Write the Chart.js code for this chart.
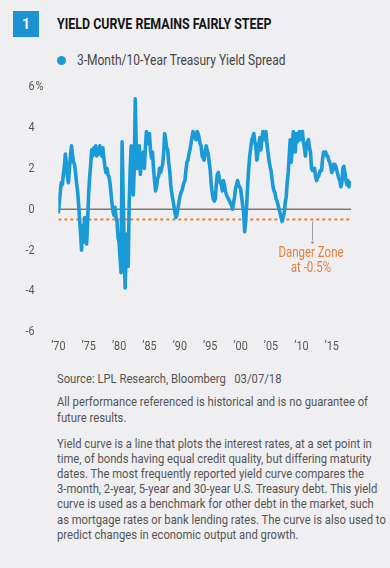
<!DOCTYPE html>
<html><head><meta charset="utf-8">
<script src="https://cdn.jsdelivr.net/npm/chart.js@4/dist/chart.umd.min.js"></script>
<style>
html,body{margin:0;padding:0;background:#efeff1;}
body{width:390px;height:568px;position:relative;overflow:hidden;font-family:Roboto,"Liberation Sans",sans-serif;}
.num{position:absolute;left:13px;top:11px;width:26px;height:26px;background:#1b93d3;color:#fff;font-weight:bold;font-size:14px;line-height:26px;text-align:center;}
.blk{position:absolute;white-space:nowrap;transform-origin:0 0;}
.blk > span{display:inline-block;}
.title{left:57px;top:15px;font-weight:bold;font-size:15px;line-height:18px;color:#151515;}
.dot{position:absolute;left:57px;top:55.5px;width:9px;height:9px;border-radius:50%;background:#1b9ad8;}
.legend{left:77px;top:51px;font-size:14px;line-height:18px;color:#444;}
#wrap{position:absolute;left:0;top:70px;width:390px;height:290px;}
.txt{left:57px;font-size:13px;color:#555;}
</style>
</head>
<body>
<div class="num">1</div>
<div class="blk title" data-w="214.5"><span>YIELD CURVE REMAINS FAIRLY STEEP</span></div>
<div class="dot"></div>
<div class="blk legend" data-w="208.5"><span>3-Month/10-Year Treasury Yield Spread</span></div>
<div id="wrap"><canvas id="c" width="390" height="290"></canvas></div>
<div class="blk txt body" style="top:371px;line-height:16px;"><span>Source: LPL Research, Bloomberg&nbsp;&nbsp;&nbsp;03/07/18</span></div>
<div class="blk txt body" style="top:393.5px;line-height:16.3px;"><span id="ref">All performance referenced is historical and is no guarantee of</span><br><span>future results.</span></div>
<div class="blk txt body" style="top:435.6px;line-height:15.2px;"><span>Yield curve is a line that plots the interest rates, at a set point in<br>time, of bonds having equal credit quality, but differing maturity<br>dates. The most frequently reported yield curve compares the<br>3-month, 2-year, 5-year and 30-year U.S. Treasury debt. This yield<br>curve is used as a benchmark for other debt in the market, such<br>as mortgage rates or bank lending rates. The curve is also used to<br>predict changes in economic output and growth.</span></div>
<script>
// condense HTML text to the reference widths
(function () {
  document.querySelectorAll('.blk[data-w]').forEach(el => {
    const w = el.querySelector('span').getBoundingClientRect().width;
    el.style.transform = 'scaleX(' + (parseFloat(el.dataset.w) / w) + ')';
  });
  const rw = document.getElementById('ref').getBoundingClientRect().width;
  const k = 311 / rw;
  document.querySelectorAll('.blk.body').forEach(el => { el.style.transform = 'scaleX(' + k + ')'; });
})();
</script>
<script>
// 3-Month/10-Year Treasury yield spread (%), sampled every two months from Jan 1970
const startYear = 1970;
const samplesPerYear = 6;
const spread1970s = [
  -0.2, 0.3, 0.9, 1.3, 1.2, 1.7,
  2.1, 2.7, 2.2, 1.6, 1.3, 2.0,
  2.6, 3.1, 2.7, 2.3, 2.2, 1.8,
  1.3, 0.9, 0.3, -0.5, -1.2, -2.0,
  -0.8, -1.6, -0.4, -1.3, -1.7, -0.5,
  0.8, 1.6, 2.2, 2.9, 2.6, 3.0,
  2.7, 3.1, 2.6, 2.9, 2.7, 3.1,
  2.9, 2.6, 3.0, 2.5, 2.1, 1.8,
  2.0, 1.7, 1.6, 1.3, 0.8, 0.3,
  -0.1, -0.3, 0.1, -0.4, -0.6, -1.4
];
const spread1980s = [
  -1.6, -2.4, -3.1, 3.3, 0.8, -1.8,
  -3.85, -2.0, -1.2, -2.8, 0.3, 2.0,
  3.1, 1.6, 0.7, 2.0, 5.4, 2.9,
  2.0, 2.6, 3.1, 1.7, 2.3, 2.6,
  2.8, 2.0, 3.0, 3.8, 3.2, 3.6,
  3.7, 2.9, 2.5, 2.8, 2.0, 1.4,
  0.9, 1.1, 1.5, 1.6, 2.0, 1.8,
  2.0, 2.2, 2.7, 3.7, 3.4, 3.0,
  2.9, 2.3, 1.9, 1.2, 0.8, 0.5,
  0.2, -0.1, -0.4, -0.3, 0.0, 0.3
];
const spread1990s = [
  0.6, 0.8, 0.9, 1.1, 1.3, 1.4,
  1.9, 2.3, 2.4, 2.7, 2.9, 3.2,
  3.5, 3.8, 3.5, 3.7, 3.4, 3.8,
  3.7, 3.5, 3.2, 3.1, 2.6, 2.5,
  2.4, 2.8, 3.1, 2.9, 2.7, 2.3,
  1.9, 1.2, 0.8, 0.5, 0.4, 0.5,
  1.2, 1.7, 1.8, 1.5, 1.3, 1.2,
  0.9, 1.4, 1.2, 0.9, 0.7, 0.6,
  0.5, 0.4, 0.3, 0.2, 0.0, 0.3,
  0.6, 1.0, 1.2, 1.4, 1.2, 1.1
];
const spread2000s = [
  1.0, 0.6, 0.2, -0.2, -1.1, -0.6,
  0.2, 1.2, 2.0, 2.6, 3.0, 3.4,
  3.5, 3.7, 3.3, 3.1, 2.4, 2.7,
  3.2, 3.5, 2.9, 3.4, 3.8, 3.4,
  3.5, 3.8, 3.2, 2.8, 2.4, 2.1,
  1.9, 1.5, 1.1, 0.9, 0.8, 0.5,
  0.4, 0.2, 0.0, -0.2, -0.4, -0.6,
  -0.4, -0.2, 0.3, 0.6, 1.3, 1.8,
  2.6, 3.4, 2.3, 3.0, 3.8, 2.8,
  2.8, 3.7, 3.3, 3.5, 3.8, 3.4
];
const spread2010s = [
  3.6, 3.8, 3.3, 3.0, 2.6, 3.2,
  3.3, 3.4, 3.0, 2.8, 2.0, 1.9,
  1.9, 2.0, 1.6, 1.4, 1.6, 1.6,
  1.8, 1.9, 1.9, 2.5, 2.8, 2.8,
  2.8, 2.6, 2.6, 2.4, 2.3, 2.1,
  1.8, 1.9, 2.2, 2.2, 2.1, 1.9,
  1.7, 1.5, 1.4, 1.1, 1.3, 2.0,
  2.1, 1.8, 1.4, 1.2, 1.4, 1.1,
  1.3, 1.2
];
const spread = [...spread1970s, ...spread1980s, ...spread1990s, ...spread2000s, ...spread2010s];
const xTickYears = [1970, 1975, 1980, 1985, 1990, 1995, 2000, 2005, 2010, 2015];
const yTickValues = [6, 4, 2, 0, -2, -4, -6];
const dangerLevel = -0.5;
const dangerLabel = ['Danger Zone', 'at -0.5%'];
const dangerLabelYear = 2011.8;

const endYear = startYear + (spread.length - 1) / samplesPerYear;
const FONT = 'Roboto, "Liberation Sans", sans-serif';
const ORANGE = '#e4803e';
const SX = 0.8;

function condText(ctx, text, x, y, align, sx) {
  ctx.save();
  ctx.translate(x, y);
  ctx.scale(sx, 1);
  ctx.textAlign = align;
  ctx.fillText(text, 0, 0);
  ctx.restore();
}

const extras = {
  id: 'extras',
  beforeDatasetsDraw(chart) {
    const {ctx, chartArea, scales: {y}} = chart;
    const y0 = y.getPixelForValue(0);
    ctx.save();
    ctx.strokeStyle = '#7a7a7a';
    ctx.lineWidth = 1.5;
    ctx.beginPath();
    ctx.moveTo(chartArea.left, y0);
    ctx.lineTo(chartArea.right, y0);
    ctx.stroke();
    ctx.restore();
  },
  afterDraw(chart) {
    const {ctx, chartArea, scales: {x, y}} = chart;
    ctx.save();
    ctx.fillStyle = '#555';
    ctx.font = '13.5px ' + FONT;
    ctx.textBaseline = 'middle';
    // y tick labels
    yTickValues.forEach(v => {
      const py = y.getPixelForValue(v);
      condText(ctx, String(v), 34.5, py, 'right', SX);
      if (v === yTickValues[0]) condText(ctx, '%', 35.5, py, 'left', SX);
    });
    // x tick labels
    xTickYears.forEach(v => {
      condText(ctx, '\u2019' + String(v).slice(2), x.getPixelForValue(v), chartArea.bottom + 15, 'center', SX);
    });
    // danger zone annotation
    const ax = Math.round(x.getPixelForValue(dangerLabelYear)) + 0.5;
    const ay = y.getPixelForValue(dangerLevel);
    ctx.strokeStyle = '#a0a0a0';
    ctx.lineWidth = 1;
    ctx.beginPath();
    ctx.moveTo(ax, ay + 2);
    ctx.lineTo(ax, ay + 21);
    ctx.stroke();
    ctx.fillStyle = ORANGE;
    ctx.beginPath();
    ctx.arc(ax, ay + 23, 1.3, 0, Math.PI * 2);
    ctx.fill();
    ctx.font = '14px ' + FONT;
    condText(ctx, dangerLabel[0], ax - 1.5, ay + 34, 'center', 0.82);
    condText(ctx, dangerLabel[1], ax - 1.5, ay + 49, 'center', 0.82);
    ctx.restore();
  }
};

new Chart(document.getElementById('c'), {
  type: 'line',
  data: {
    datasets: [
      {
        label: '3-Month/10-Year Treasury Yield Spread',
        data: spread.map((v, i) => ({x: startYear + i / samplesPerYear, y: v})),
        borderColor: '#1b9ad8',
        borderWidth: 3.6,
        pointRadius: 0,
        tension: 0,
        borderJoinStyle: 'round',
        order: 1
      },
      {
        label: 'Danger Zone',
        data: [{x: startYear, y: dangerLevel}, {x: endYear, y: dangerLevel}],
        borderColor: ORANGE,
        borderWidth: 2,
        borderDash: [3, 3],
        pointRadius: 0,
        order: 2
      }
    ]
  },
  options: {
    responsive: false,
    animation: false,
    devicePixelRatio: 1,
    layout: {padding: {left: 58.3, right: 39, top: 16.5, bottom: 28}},
    plugins: {legend: {display: false}, tooltip: {enabled: false}},
    scales: {
      x: {display: false, type: 'linear', min: startYear, max: endYear},
      y: {display: false, min: -6, max: 6}
    }
  },
  plugins: [extras]
});
</script>
</body></html>
